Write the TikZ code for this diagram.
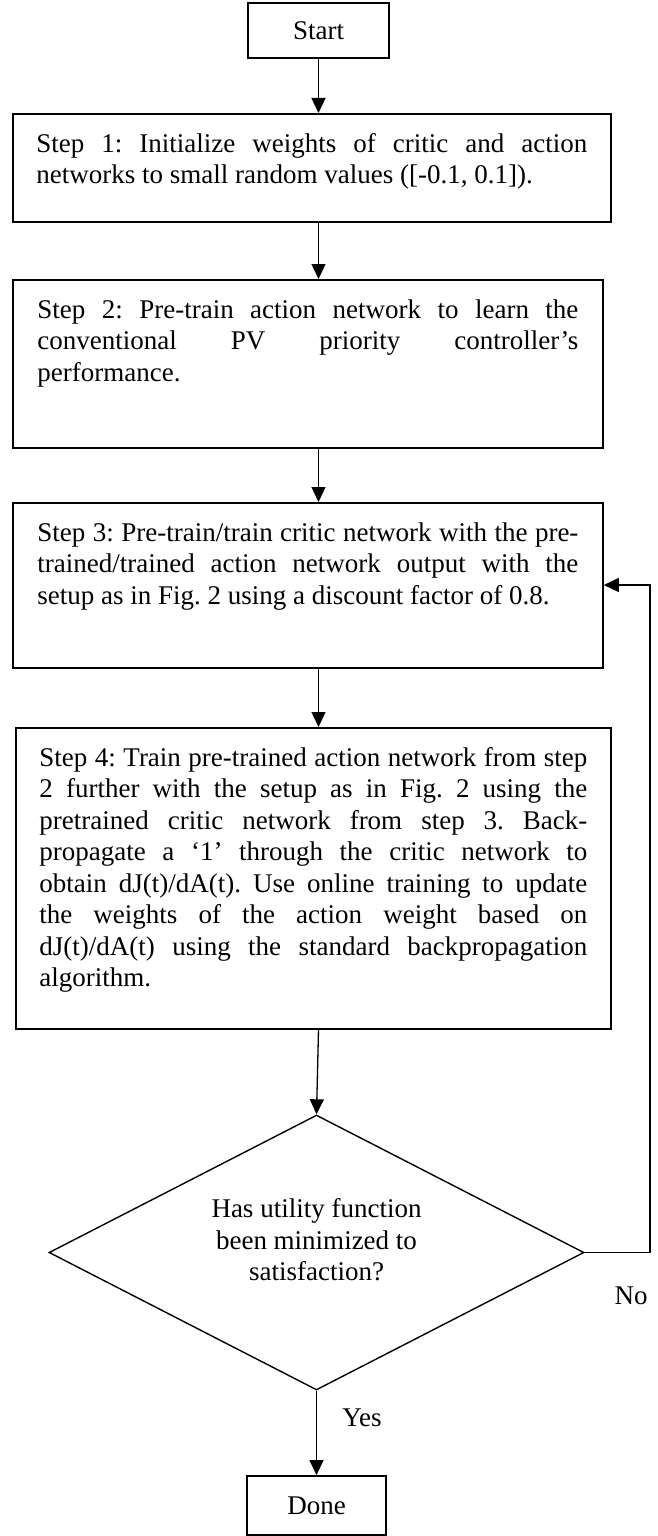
\documentclass[tikz,border=0pt]{standalone}
\usepackage{fontspec}
\setmainfont{Liberation Serif}
\usetikzlibrary{shapes.geometric,arrows.meta,calc}
\newcommand{\jl}[1]{\makebox[\linewidth][s]{#1}}
\newcommand{\firstl}{\rule{0pt}{38.5pt}}
\frenchspacing
\begin{document}
\begin{tikzpicture}[x=1pt,y=1pt,
  every node/.style={font=\fontsize{27}{31.5}\selectfont},
  stepbox/.style={draw, line width=1.8pt, rectangle, inner sep=0pt, anchor=north west},
  termbox/.style={draw, line width=1.8pt, rectangle, inner sep=0pt},
  decbox/.style={draw, line width=1.4pt, diamond, inner sep=0pt, minimum width=535pt, minimum height=275pt},
  arr/.style={line width=1.3pt, -{Triangle[length=15pt,width=14pt]}},
  lbl/.style={inner sep=0pt, anchor=base}
]
\useasboundingbox (0,0) rectangle (657,-1536);

\node[termbox, minimum width=141pt, minimum height=55pt] (start) at (318.5,-30.5) {Start};

\node[stepbox, minimum width=598pt, minimum height=108pt] (s1) at (12,-113)
 {\parbox[c][108pt][t]{551pt}{\fontsize{27}{31.5}\selectfont\frenchspacing
  \firstl\jl{Step 1: Initialize weights of critic and action}\\
  networks to small random values ([-0.1, 0.1]).}};

\node[stepbox, minimum width=590pt, minimum height=168pt] (s2) at (12,-279)
 {\parbox[c][168pt][t]{541pt}{\fontsize{27}{31.5}\selectfont\frenchspacing
  \firstl\jl{Step 2: Pre-train action network to learn the}\\
  \jl{conventional PV priority controller’s}\\
  performance.}};

\node[stepbox, minimum width=590pt, minimum height=165pt] (s3) at (12,-502)
 {\parbox[c][165pt][t]{541pt}{\fontsize{27}{31.5}\selectfont\frenchspacing
  \firstl\jl{Step 3: Pre-train/train critic network with the pre-}\\
  \jl{trained/trained action network output with the}\\
  setup as in Fig. 2 using a discount factor of 0.8.}};

\node[stepbox, minimum width=595pt, minimum height=301pt] (s4) at (15,-727)
 {\parbox[c][301pt][t]{548pt}{\fontsize{27}{31.5}\selectfont\frenchspacing
  \firstl\jl{Step 4: Train pre-trained action network from step}\\
  \jl{2 further with the setup as in Fig. 2 using the}\\
  \jl{pretrained critic network from step 3. Back-}\\
  \jl{propagate a ‘1’ through the critic network to}\\
  \jl{obtain dJ(t)/dA(t). Use online training to update}\\
  \jl{the weights of the action weight based on}\\
  \jl{dJ(t)/dA(t) using the standard backpropagation}\\
  algorithm.}};

\node[decbox] (dec) at (316.5,-1252.5) {};
\node[align=center, inner sep=0pt] (dect) at (316.5,-1240)
 {Has utility function\\been minimized to\\satisfaction?};

\node[termbox, minimum width=139pt, minimum height=59pt] (done) at (316.5,-1505.5) {Done};

\node[lbl] (yes) at (362,-1426) {Yes};
\node[lbl] (no) at (631,-1304) {No};

\coordinate (fbt) at (650,-585);

\draw[arr] (start.south) -- (s1.north -| start.south);
\draw[arr] (s1.south -| start.south) -- (s2.north -| start.south);
\draw[arr] (s2.south -| start.south) -- (s3.north -| start.south);
\draw[arr] (s3.south -| start.south) -- (s4.north -| start.south);
\draw[arr] (s4.south -| start.south) -- (dec.north);
\draw[arr] (dec.south) -- (done.north);
\draw[arr] (dec.east) -| (fbt) -- (s3.east |- fbt);
\end{tikzpicture}
\end{document}
